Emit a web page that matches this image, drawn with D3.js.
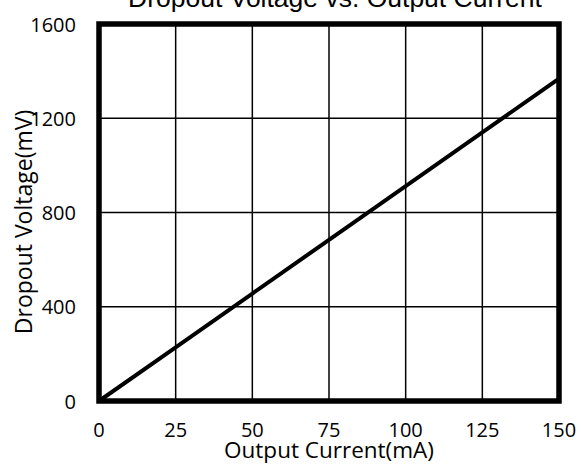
<!DOCTYPE html>
<html>
<head>
<meta charset="utf-8">
<script src="https://cdn.jsdelivr.net/npm/d3@7"></script>
<style>
  body { margin: 0; background: #fff; }
  svg text { fill: #000; }
</style>
</head>
<body>
<svg width="582" height="475"></svg>
<script>
// data
const current = [0, 25, 50, 75, 100, 125, 150];
const dropout = [0, 228, 456, 684, 912, 1140, 1368];
const xTicks = [0, 25, 50, 75, 100, 125, 150];
const yTicks = [0, 400, 800, 1200, 1600];

const svg = d3.select("svg");
const margin = { left: 99, right: 23, top: 24, bottom: 74 };
const width = +svg.attr('width');
const height = +svg.attr('height');

const x = d3.scaleLinear().domain([0, 150]).range([margin.left, width - margin.right]);
const y = d3.scaleLinear().domain([0, 1600]).range([height - margin.bottom, margin.top]);

const tickFont = "'Open Sans', 'Noto Sans', sans-serif";

// grid
svg.append('g')
    .selectAll('line')
    .data(xTicks.slice(1, -1))
    .join('line')
        .attr('x1', d => x(d)).attr('x2', d => x(d))
        .attr('y1', y(0)).attr('y2', y(1600))
        .attr('stroke', '#000').attr('stroke-width', 1.5);

svg.append('g')
    .selectAll('line')
    .data(yTicks.slice(1, -1))
    .join('line')
        .attr('x1', x(0)).attr('x2', x(150))
        .attr('y1', d => y(d)).attr('y2', d => y(d))
        .attr('stroke', '#000').attr('stroke-width', 1.5);

// data line
const line = d3.line()
    .x((d, i) => x(current[i]))
    .y(d => y(d));

svg.append('path')
    .datum(dropout)
    .attr('d', line)
    .attr('fill', 'none')
    .attr('stroke', '#000')
    .attr('stroke-width', 4);

// frame
svg.append('rect')
    .attr('x', x(0)).attr('y', y(1600))
    .attr('width', x(150) - x(0))
    .attr('height', y(0) - y(1600))
    .attr('fill', 'none')
    .attr('stroke', '#000')
    .attr('stroke-width', 5.5);

// tick labels
svg.append('g')
    .selectAll('text')
    .data(xTicks)
    .join('text')
        .attr('x', d => x(d))
        .attr('y', y(0) + 36)
        .attr('text-anchor', 'middle')
        .style('font-family', tickFont)
        .style('font-size', '20px')
        .text(d => d);

svg.append('g')
    .selectAll('text')
    .data(yTicks)
    .join('text')
        .attr('x', x(0) - 23)
        .attr('y', d => y(d) + 7.5)
        .attr('text-anchor', 'end')
        .style('font-family', tickFont)
        .style('font-size', '20px')
        .text(d => d);

// axis titles
svg.append('text')
    .attr('x', (x(0) + x(150)) / 2)
    .attr('y', y(0) + 57)
    .attr('text-anchor', 'middle')
    .style('font-family', tickFont)
    .style('font-size', '22.5px')
    .text('Output Current(mA)');

svg.append('text')
    .attr('transform', `translate(32, 222) rotate(-90)`)
    .attr('text-anchor', 'middle')
    .style('font-family', tickFont)
    .style('font-size', '23px')
    .text('Dropout Voltage(mV)');

// title, clipped at top of the picture
svg.append('text')
    .attr('x', 335)
    .attr('y', 7)
    .attr('text-anchor', 'middle')
    .style('font-family', "'Liberation Sans', Arial, sans-serif")
    .style('font-size', '26.5px')
    .text('Dropout Voltage vs. Output Current');
</script>
</body>
</html>
